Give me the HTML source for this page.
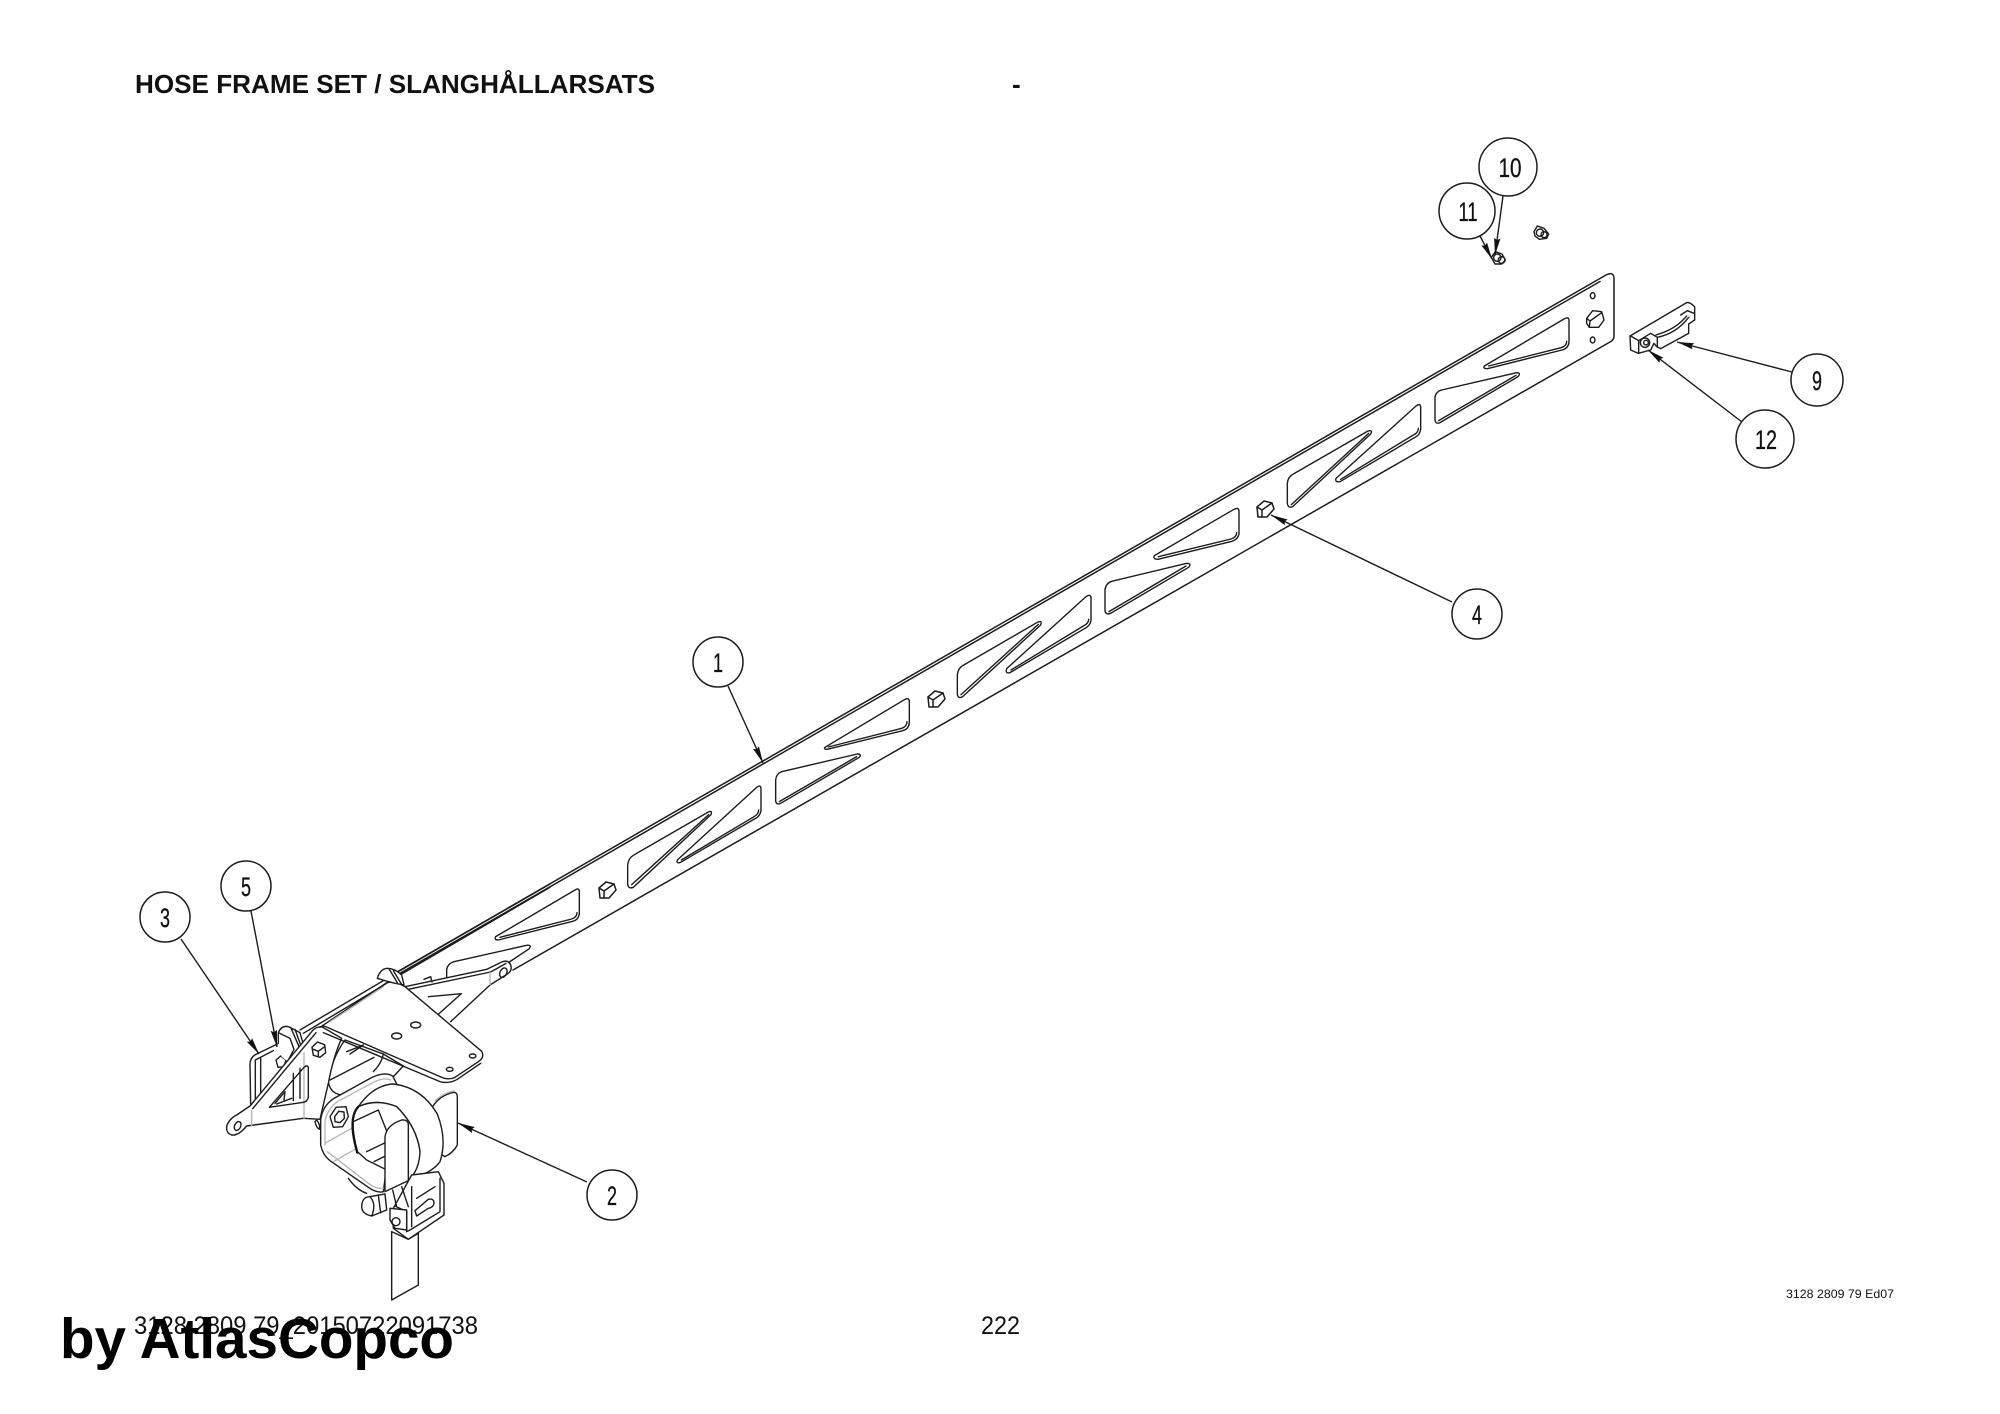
<!DOCTYPE html>
<html><head><meta charset="utf-8"><title>Hose frame set</title>
<style>html,body{margin:0;padding:0;background:#fff}svg{display:block}
text{font-family:"Liberation Sans",sans-serif;fill:#111}
.l{fill:none;stroke:#1c1c1c;stroke-width:1.5;stroke-linejoin:round;stroke-linecap:round}
.w{fill:#fff;stroke:#1c1c1c;stroke-width:1.5;stroke-linejoin:round;stroke-linecap:round}
.z .l,.z .w{stroke-width:4.2}
.z .g{fill:none;stroke:#b5b5b5;stroke-width:4;stroke-linecap:round;stroke-linejoin:round}
.z .t{fill:none;stroke:#111;stroke-width:7;stroke-linecap:round;stroke-linejoin:round}
.c{fill:#fff;stroke:#1c1c1c;stroke-width:1.5}
.n{font-size:27px;text-anchor:middle;stroke:#111;stroke-width:.3}
.a{fill:none;stroke:#1c1c1c;stroke-width:1.4;marker-end:url(#ah)}
</style></head><body>
<svg xmlns="http://www.w3.org/2000/svg" width="2000" height="1414" viewBox="0 0 2000 1414">
<defs>
<marker id="ah" markerUnits="userSpaceOnUse" markerWidth="20" markerHeight="9" refX="17" refY="3.5" orient="auto"><path d="M0,0.3 L17,3.5 L0,6.7 L2,3.5 Z" fill="#111"/></marker>
</defs>
<rect width="2000" height="1414" fill="#fff"/>

<!-- beam outline -->
<path class="l" d="M397,972 L1606,275 Q1614,271 1614,279 L1614,336 Q1614,340 1610,342 L513,970"/>
<path class="l" d="M400,973.3 L1600,281.5"/>

<!-- slots, z3 coordinates -->
<g class="z" transform="translate(480,620) scale(.33333)">
<path class="l" d="M1035,382 L1275,238 Q1288,232 1288,245 L1288,308 Q1286,328 1268,332 L1042,388 Q1030,388 1035,382 Z"/>
<path class="l" d="M1045,381 L1265,325 Q1281,320 1281,305"/>
<path class="l" d="M887,480 Q889,460 905,455 L1132,402 Q1146,402 1138,412 L902,550 Q888,556 887,542 Z"/>
<path class="l" d="M898,545 L1130,410"/>
<path class="l" d="M592,720 L830,502 Q843,492 843,508 L843,572 Q840,590 825,596 L602,727 Q588,732 592,720 Z"/>
<path class="l" d="M604,720 L822,590 Q836,582 836,570"/>
<path class="l" d="M443,735 Q445,715 460,706 L685,576 Q698,570 693,584 L460,802 Q445,808 443,792 Z"/>
<path class="l" d="M455,794 L686,584"/>
<path class="l" d="M47,950 L285,810 Q298,802 298,815 L298,882 Q295,900 278,904 L55,960 Q42,960 47,950 Z"/>
<path class="l" d="M60,952 L275,897 Q291,892 291,878"/>
</g>
<g class="z" transform="translate(950,380) scale(.33333)">
<path class="l" d="M22,885 Q24,865 38,857 L262,727 Q278,720 272,735 L38,950 Q24,958 22,942 Z"/>
<path class="l" d="M33,944 L265,733"/>
<path class="l" d="M170,866 L408,650 Q423,640 423,655 L423,722 Q420,738 405,745 L180,878 Q165,882 170,866 Z"/>
<path class="l" d="M183,870 L400,738 Q416,730 416,718"/>
<path class="l" d="M465,630 Q467,610 485,604 L710,550 Q726,550 716,562 L482,700 Q467,706 465,692 Z"/>
<path class="l" d="M477,695 L708,558"/>
<path class="l" d="M613,527 L852,388 Q867,380 867,395 L867,462 Q864,478 846,484 L624,538 Q608,538 613,527 Z"/>
<path class="l" d="M625,530 L843,477 Q860,472 860,458"/>
<path class="l" d="M1012,310 Q1014,290 1030,282 L1252,154 Q1270,148 1262,162 L1028,380 Q1014,386 1012,370 Z"/>
<path class="l" d="M1024,374 L1256,160"/>
<path class="l" d="M1158,295 L1398,78 Q1412,68 1412,82 L1412,148 Q1410,165 1395,172 L1170,305 Q1154,308 1158,295 Z"/>
<path class="l" d="M1172,298 L1390,165 Q1405,158 1405,145"/>
</g>
<g class="z" transform="translate(1400,120) scale(.33333)">
<path class="l" d="M105,832 Q107,815 125,810 L350,758 Q364,758 354,770 L120,908 Q106,914 105,898 Z"/>
<path class="l" d="M116,902 L348,766"/>
<path class="l" d="M253,738 L492,597 Q507,588 507,602 L507,668 Q504,686 486,690 L262,746 Q248,746 253,738 Z"/>
<path class="l" d="M266,738 L483,683 Q500,678 500,664"/>
<!-- holes -->
<ellipse class="l" cx="578" cy="527" rx="7" ry="9"/>
<ellipse class="l" cx="578" cy="660" rx="7" ry="9"/>
<!-- large bolt -->
<path class="w" d="M560,595 L578,572 L605,575 L612,600 L596,622 L568,622 L560,610 Z"/>
<path class="l" d="M560,595 L570,603 L605,578 M570,603 L568,622"/>
<!-- nuts -->
<g>
<path class="l" d="M402,335 L412,318 L432,325 L446,342 L440,355 L418,358 L405,348 Z"/>
<circle class="l" cx="420" cy="338" r="11"/><circle class="l" cx="432" cy="344" r="9"/>
</g>
<g>
<path class="l" d="M274,412 L286,395 L306,402 L316,420 L305,432 L285,432 Z"/>
<circle class="l" cx="292" cy="413" r="11"/><circle class="l" cx="305" cy="420" r="10"/>
</g>
<!-- part 9 -->
<path class="w" d="M690,648 L860,548 Q868,545 884,560 L884,600 L866,612 L866,640 L782,686 L770,680 L762,670 L752,690 L715,700 L692,690 Z"/>
<path class="l" d="M692,648 L716,662 L716,700 M716,662 L752,640 L772,652 L772,680 M772,652 Q830,640 866,592 M768,645 Q828,628 860,588 M842,585 L862,572 L882,580"/>
<circle class="w" cx="735" cy="668" r="14"/>
<circle class="l" cx="738" cy="668" r="7"/>
</g>

<!-- small bolts on beam -->
<g transform="translate(1265,510)"><path class="w" d="M-8,-3 L-1,-9 L7,-7 L9,-1 L2,7 L-7,7 Z"/><path class="l" d="M-8,-3 L-3,0 L7,-7 M-3,0 L-3,7"/></g>
<g transform="translate(607,891)"><path class="w" d="M-8,-3 L-1,-9 L7,-7 L9,-1 L2,7 L-7,7 Z"/><path class="l" d="M-8,-3 L-3,0 L7,-7 M-3,0 L-3,7"/></g>
<g transform="translate(936,700)"><path class="w" d="M-8,-3 L-1,-9 L7,-7 L9,-1 L2,7 L-7,7 Z"/><path class="l" d="M-8,-3 L-3,0 L7,-7 M-3,0 L-3,7"/></g>

<!-- left assembly, z1 coordinates -->
<g class="z" transform="translate(100,850) scale(.33333)">
<!-- S13 slot + flange behind plate -->
<path class="l" d="M1040,385 L1040,358 Q1044,340 1062,335 L1280,286 Q1296,284 1288,296 L1228,336"/>
<path class="w" d="M915,410 L1160,358 L1205,336 Q1225,328 1232,345 Q1238,362 1222,372 L1170,405 L1052,515 L1010,490 L985,440 L925,420 Z" style="stroke:none"/>
<path class="l" d="M915,410 L1160,358 L1205,336 Q1225,328 1232,345 Q1238,362 1222,372 L1170,405 L1052,515"/>
<path class="l" d="M925,418 L1172,366 L1218,340"/>
<ellipse class="l" cx="1210" cy="368" rx="10" ry="15" transform="rotate(25 1210 368)"/>
<path class="g" d="M1170,368 L1170,404"/>
<path class="l" d="M972,388 L992,380 L996,396 M985,440 L1084,431 L1016,492"/>

<!-- back bracket -->
<path class="l" d="M452,770 L450,640 Q452,620 470,612 L532,582"/>
<path class="l" d="M466,760 L466,630 L520,602 M482,738 L482,622"/>
<!-- set bolt -->
<path class="w" d="M528,630 L542,618 L558,630 L552,650 L534,652 Z"/>
<!-- clamp A -->
<path class="w" d="M535,548 Q545,525 565,530 L600,545 L612,590 L590,602 L570,640 L545,620 L535,580 Z" style="stroke:none"/>
<path class="l" d="M535,580 L535,548 Q545,525 565,530 L600,548 L612,590 M572,532 L598,592 M585,538 L606,596 M535,548 L570,565 L582,598 L565,630"/>

<!-- cylinder behind -->
<path class="w" d="M735,570 Q695,625 685,695 Q690,730 725,735 L880,680 L910,648 L850,612 Z"/>
<path class="l" d="M690,690 L822,622 M740,605 L790,585 L750,612 M820,665 Q845,640 850,612"/>

<!-- main bracket -->
<path class="w" d="M380,830 Q385,808 410,795 L450,768 L635,545 Q645,530 665,530 L725,565 Q700,620 685,700 L660,808 L610,805 L440,828 Q415,858 395,855 Q378,850 380,830 Z"/>
<path class="l" d="M458,776 L648,548"/>
<path class="g" d="M455,782 L455,828 M612,608 L612,805"/>
<ellipse class="l" cx="413" cy="828" rx="9" ry="14" transform="rotate(25 413 828)"/>
<path class="l" d="M508,772 L612,652 Q625,642 625,655 L625,742 Q622,755 610,757 Z"/>
<path class="l" d="M525,760 L555,725 L552,750 M580,752 L580,670 M600,745 L600,655 M530,762 L575,745"/>
<path class="w" d="M650,810 Q662,825 658,838 Q648,832 645,815 Z"/>
<path class="w" d="M636,592 L652,576 L674,584 L677,608 L660,622 L640,616 Z"/>
<path class="l" d="M640,598 L655,604 L674,590 M655,604 L655,620"/>

<!-- plate -->
<path class="w" d="M660,532 Q670,525 682,532 L1020,680 Q1045,692 1065,682 L1135,635 Q1155,622 1145,604 L915,410 L885,395 L860,398 Z"/>
<path class="l" d="M670,548 L1020,695 Q1048,702 1072,688 L1142,640"/>
<path class="g" d="M690,515 L850,410"/>
<path class="l" d="M600,540 L850,392 M610,550 L860,400 M895,365 L1350,102 M905,372 L1350,112"/>
<ellipse class="l" cx="890" cy="558" rx="15" ry="9"/>
<ellipse class="l" cx="947" cy="525" rx="15" ry="9"/>
<ellipse class="l" cx="1049" cy="658" rx="10" ry="6"/>
<ellipse class="l" cx="1118" cy="618" rx="10" ry="6"/>
<!-- clamp B -->
<path class="w" d="M832,385 Q840,358 860,355 Q885,355 905,375 L912,405 L885,400 L855,392 Z"/>
<path class="l" d="M868,358 L892,398 M880,362 L904,402"/>

<!-- tab right -->
<path class="w" d="M998,770 Q1020,735 1062,727 Q1072,727 1072,742 L1072,885 Q1060,908 1035,920 L1000,900 Z"/>
<path class="g" d="M1005,752 Q1030,730 1062,722"/>

<!-- hex plate of clamp -->
<path class="w" d="M662,885 L662,812 Q665,770 702,745 L805,688 Q850,662 878,678 L892,706 L850,1025 Q830,1030 805,1012 L690,932 Q668,915 662,885 Z"/>
<path class="g" d="M675,885 L675,815 Q680,780 712,755 L815,700 Q850,680 872,690 M682,905 L805,1000 Q830,1018 850,1015 M675,880 L790,815 M700,935 L850,850"/>
<path class="w" d="M690,800 L708,772 L738,770 L745,800 L728,830 L700,832 Z"/>
<path class="l" d="M704,800 L716,784 L732,786 L733,805 L720,818 L705,815 Z"/>

<!-- ring band -->
<path class="w" d="M775,770 Q820,705 880,702 Q965,712 1012,792 Q1042,870 1020,935 Q1000,962 958,978 L925,990 L960,905 Q950,830 890,770 Q830,745 775,770 Z"/>
<path class="w" d="M775,770 Q830,745 890,770 Q950,830 960,905 Q958,960 925,992 L800,930 L772,905 Q745,800 775,770 Z"/>
<path class="t" d="M772,908 Q742,805 775,770"/>
<path class="l" d="M760,815 L835,780 L862,848 M800,905 L856,878 M822,935 L856,918"/>
<!-- front U piece -->
<path class="w" d="M855,1025 L855,860 Q860,825 905,810 Q925,808 925,825 L925,992 Z"/>

<!-- hinge bracket -->
<path class="w" d="M935,975 L1015,965 L1032,1000 L1032,1095 L925,1168 L880,1135 L880,1075 Z"/>
<path class="l" d="M1020,985 L1020,1085 L930,1140 L920,1145 L920,1085 L885,1068"/>
<path class="l" d="M745,985 Q770,1020 800,1030"/>
<!-- roller -->
<path class="w" d="M945,1082 L985,1048 Q1002,1044 1002,1060 Q1000,1072 985,1075 L950,1098 Z"/>
<path class="l" d="M935,1010 L935,1130 M950,1045 L1005,1010"/>
<!-- bolt -->
<path class="w" d="M798,1042 L855,1032 L860,1080 L815,1098 Q785,1092 785,1070 Q785,1050 798,1042 Z"/>
<path class="l" d="M810,1040 Q830,1062 815,1098 M835,1036 L842,1088"/>
<path class="l" d="M878,1020 L890,1070 M905,1010 L925,1070"/>
<path class="w" d="M870,1075 L920,1080 L920,1140 L885,1135 L870,1110 Z"/>
<circle class="l" cx="888" cy="1115" r="12"/>
<!-- strap -->
<path class="w" d="M875,1145 L875,1350 L955,1305 L955,1150 L925,1168 Z"/>
</g>

<!-- leaders -->
<line class="a" x1="181" y1="939" x2="259" y2="1054"/>
<line class="a" x1="251" y1="911" x2="277" y2="1047"/>
<line class="a" x1="728" y1="686" x2="763" y2="763"/>
<line class="a" x1="587" y1="1182" x2="458" y2="1123"/>
<line class="a" x1="1452" y1="602" x2="1271" y2="515"/>
<line class="a" x1="1792" y1="372" x2="1677" y2="342"/>
<line class="a" x1="1742" y1="422" x2="1648" y2="350"/>
<line class="a" x1="1503" y1="196" x2="1495" y2="255"/>
<line class="a" x1="1480" y1="236" x2="1492" y2="259"/>

<!-- balloons -->
<circle class="c" cx="165" cy="917" r="25"/><text class="n" x="165" y="927" textLength="10" lengthAdjust="spacingAndGlyphs">3</text>
<circle class="c" cx="246" cy="886" r="25"/><text class="n" x="246" y="896" textLength="10" lengthAdjust="spacingAndGlyphs">5</text>
<circle class="c" cx="718" cy="662" r="25"/><text class="n" x="718" y="672" textLength="10" lengthAdjust="spacingAndGlyphs">1</text>
<circle class="c" cx="612" cy="1195" r="25"/><text class="n" x="612" y="1205" textLength="10" lengthAdjust="spacingAndGlyphs">2</text>
<circle class="c" cx="1477" cy="614" r="25"/><text class="n" x="1477" y="624" textLength="10" lengthAdjust="spacingAndGlyphs">4</text>
<circle class="c" cx="1817" cy="380" r="26"/><text class="n" x="1817" y="390" textLength="10" lengthAdjust="spacingAndGlyphs">9</text>
<circle class="c" cx="1765" cy="439" r="29"/><text class="n" x="1766" y="449" textLength="22" lengthAdjust="spacingAndGlyphs">12</text>
<circle class="c" cx="1508" cy="167" r="29"/><text class="n" x="1510" y="177" textLength="23" lengthAdjust="spacingAndGlyphs">10</text>
<circle class="c" cx="1467" cy="211" r="28" style="fill:none"/><text class="n" x="1468" y="221" textLength="19" lengthAdjust="spacingAndGlyphs">11</text>

<!-- text -->
<text x="135" y="93" font-size="26" font-weight="bold" textLength="520" lengthAdjust="spacingAndGlyphs">HOSE FRAME SET / SLANGHÅLLARSATS</text>
<text x="1012" y="93" font-size="26" font-weight="bold">-</text>
<text x="1786" y="1298" font-size="12" textLength="108" lengthAdjust="spacingAndGlyphs">3128 2809 79 Ed07</text>
<text x="134" y="1334" font-size="25" textLength="344" lengthAdjust="spacingAndGlyphs">3128 2809 79_20150722091738</text>
<text x="981" y="1334" font-size="25" textLength="39" lengthAdjust="spacingAndGlyphs">222</text>
<text x="60" y="1358" font-size="57" font-weight="bold" style="fill:#000" textLength="394" lengthAdjust="spacingAndGlyphs">by AtlasCopco</text>
</svg>
</body></html>
